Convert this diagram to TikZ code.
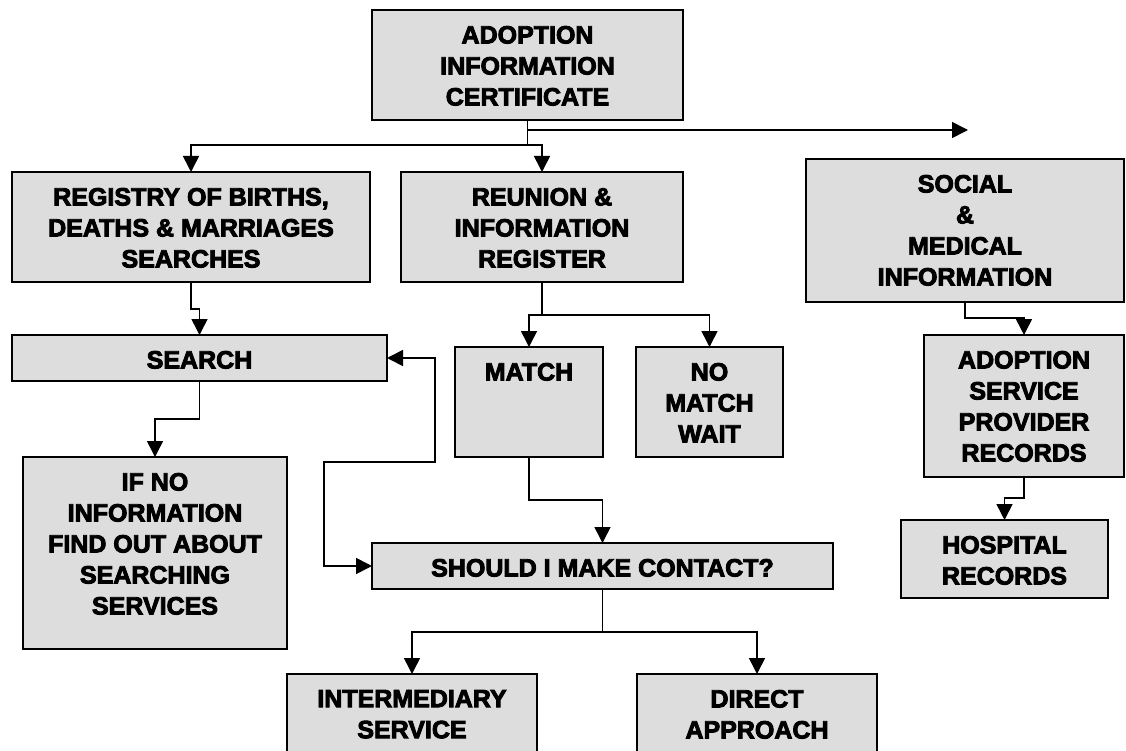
\documentclass[tikz,border=0pt]{standalone}
\usepackage{fontspec}
\setmainfont{Liberation Sans}[BoldFeatures={FakeBold=3.5}]
\usetikzlibrary{arrows.meta}
\definecolor{boxgray}{HTML}{DDDDDD}
\newcommand\bxt[3]{\parbox[c][#2pt][t]{#1pt}{\centering\bfseries\fontsize{25}{31}\selectfont\vspace*{16pt}#3\par}}
\begin{document}
\begin{tikzpicture}[x=1pt,y=-1pt,
  box/.style={draw=black,fill=boxgray,line width=1.6pt,inner sep=0pt,outer sep=0pt,anchor=north west},
  conn/.style={line width=1.6pt},
  arr/.style={conn,-{Triangle[length=16pt,width=16pt]}},
  arrboth/.style={conn,{Triangle[length=16pt,width=16pt]}-{Triangle[length=16pt,width=16pt]}}]
\useasboundingbox (0,0) rectangle (1126,751);
\clip (0,0) rectangle (1126,751);
\fill[white] (0,0) rectangle (1126,751);
% boxes
\node[box] (aic) at (372,10) {\bxt{311}{110}{ADOPTION\\INFORMATION\\CERTIFICATE}};
\node[box] (reg) at (12,172) {\bxt{358}{110}{REGISTRY OF BIRTHS,\\DEATHS \& MARRIAGES\\SEARCHES}};
\node[box] (reu) at (401,172) {\bxt{282}{110}{REUNION \&\\INFORMATION\\REGISTER}};
\node[box] (soc) at (806,159) {\bxt{318}{143}{SOCIAL\\\&\\MEDICAL\\INFORMATION}};
\node[box] (search) at (12,335) {\bxt{375}{46}{SEARCH}};
\node[box] (match) at (455,347) {\bxt{148}{110}{MATCH}};
\node[box] (nomatch) at (636,347) {\bxt{147}{110}{NO\\MATCH\\WAIT}};
\node[box] (aspr) at (924,335) {\bxt{200}{142}{ADOPTION\\SERVICE\\PROVIDER\\RECORDS}};
\node[box] (hosp) at (901,520) {\bxt{207}{78}{HOSPITAL\\RECORDS}};
\node[box] (ifno) at (23,457) {\bxt{264}{192}{IF NO\\INFORMATION\\FIND OUT ABOUT\\SEARCHING\\SERVICES}};
\node[box] (should) at (372,543) {\bxt{461}{46}{SHOULD I MAKE CONTACT?}};
\node[box] (inter) at (287,674) {\bxt{250}{110}{INTERMEDIARY\\SERVICE}};
\node[box] (direct) at (637,674) {\bxt{240}{110}{DIRECT\\APPROACH}};
% junctions
\coordinate (j0) at ([yshift=-10pt]aic.south);
\coordinate (j1) at ([yshift=-25pt]aic.south);
\coordinate (socarrow) at (968,130);
% connectors
\draw[conn] (aic.south) -- (j1);
\draw[arr] (j1) -| (reg.north);
\draw[arr] (j1) -| (reu.north);
\draw[arr] (j0) -- (socarrow);
\draw[arr] (soc.south) -- ++(0,16) -| (aspr.north);
\draw[arr] (aspr.south) -- ++(0,21) -| (hosp.north);
\draw[arr] (reg.south) -- ++(0,27) -| (search.north);
\draw[arr] (search.south) -- ++(0,38) -| (ifno.north);
\draw[conn] (reu.south) -- ++(0,33) coordinate (j2);
\draw[arr] (j2) -| (match.north);
\draw[arr] (j2) -| (nomatch.north);
\draw[arr] (match.south) -- ++(0,43) -| (should.north);
\draw[arrboth] (search.east) -- ++(48,0) -- ++(0,104) -- ++(-111,0) |- (should.west);
\draw[conn] (should.south) -- ++(0,43) coordinate (j3);
\draw[arr] (j3) -| (inter.north);
\draw[arr] (j3) -| (direct.north);
\end{tikzpicture}
\end{document}
